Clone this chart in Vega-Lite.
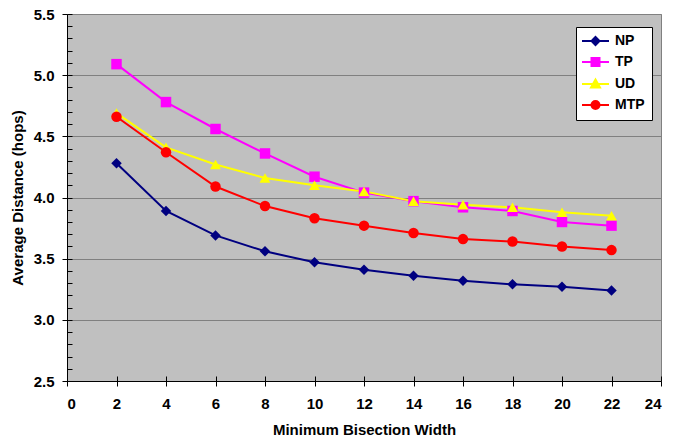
{
  "$schema": "https://vega.github.io/schema/vega-lite/v6.json",
  "width": 594,
  "height": 367,
  "autosize": {"type": "none"},
  "padding": {"left": 67, "top": 14, "right": 13, "bottom": 64},
  "background": "white",
  "config": {
    "font": "Liberation Sans",
    "view": {"fill": "#C0C0C0", "stroke": "#808080", "strokeWidth": 1},
    "axis": {"labelFont": "Liberation Sans", "titleFont": "Liberation Sans", "labelFontWeight": "bold", "titleFontWeight": "bold", "labelFontSize": 15, "titleFontSize": 15, "labelColor": "black", "titleColor": "black", "domainColor": "black", "tickColor": "black", "tickWidth": 1, "domainWidth": 1}
  },
  "data": {"values": [
    {"x": 2, "series": "NP", "y": 4.28}, {"x": 4, "series": "NP", "y": 3.89}, {"x": 6, "series": "NP", "y": 3.69}, {"x": 8, "series": "NP", "y": 3.56}, {"x": 10, "series": "NP", "y": 3.47}, {"x": 12, "series": "NP", "y": 3.41}, {"x": 14, "series": "NP", "y": 3.36}, {"x": 16, "series": "NP", "y": 3.32}, {"x": 18, "series": "NP", "y": 3.29}, {"x": 20, "series": "NP", "y": 3.27}, {"x": 22, "series": "NP", "y": 3.24},
    {"x": 2, "series": "TP", "y": 5.09}, {"x": 4, "series": "TP", "y": 4.78}, {"x": 6, "series": "TP", "y": 4.56}, {"x": 8, "series": "TP", "y": 4.36}, {"x": 10, "series": "TP", "y": 4.17}, {"x": 12, "series": "TP", "y": 4.04}, {"x": 14, "series": "TP", "y": 3.97}, {"x": 16, "series": "TP", "y": 3.92}, {"x": 18, "series": "TP", "y": 3.89}, {"x": 20, "series": "TP", "y": 3.8}, {"x": 22, "series": "TP", "y": 3.77},
    {"x": 2, "series": "UD", "y": 4.69}, {"x": 4, "series": "UD", "y": 4.41}, {"x": 6, "series": "UD", "y": 4.27}, {"x": 8, "series": "UD", "y": 4.16}, {"x": 10, "series": "UD", "y": 4.1}, {"x": 12, "series": "UD", "y": 4.05}, {"x": 14, "series": "UD", "y": 3.97}, {"x": 16, "series": "UD", "y": 3.94}, {"x": 18, "series": "UD", "y": 3.92}, {"x": 20, "series": "UD", "y": 3.88}, {"x": 22, "series": "UD", "y": 3.85},
    {"x": 2, "series": "MTP", "y": 4.66}, {"x": 4, "series": "MTP", "y": 4.37}, {"x": 6, "series": "MTP", "y": 4.09}, {"x": 8, "series": "MTP", "y": 3.93}, {"x": 10, "series": "MTP", "y": 3.83}, {"x": 12, "series": "MTP", "y": 3.77}, {"x": 14, "series": "MTP", "y": 3.71}, {"x": 16, "series": "MTP", "y": 3.66}, {"x": 18, "series": "MTP", "y": 3.64}, {"x": 20, "series": "MTP", "y": 3.6}, {"x": 22, "series": "MTP", "y": 3.57}
  ]},
  "encoding": {
    "x": {"field": "x", "type": "quantitative", "scale": {"domain": [0, 24], "nice": false, "zero": false}, "axis": null},
    "y": {"field": "y", "type": "quantitative", "scale": {"domain": [2.5, 5.5], "nice": false, "zero": false}, "axis": null},
    "color": {"field": "series", "type": "nominal", "scale": {"domain": ["NP", "TP", "UD", "MTP"], "range": ["#000080", "#FF00FF", "#FFFF00", "#FF0000"]},
      "legend": {"title": null, "orient": "none", "legendX": 509, "legendY": 13, "fillColor": "white", "strokeColor": "black", "padding": 7, "labelFontSize": 14, "labelFontWeight": "bold", "labelFont": "Liberation Sans", "labelColor": "black", "symbolSize": 100, "rowPadding": 5, "symbolStrokeWidth": 2, "symbolOffset": 5.5, "labelOffset": 12.5,
        "encode": {"symbols": {"update": {
          "shape": {"signal": "datum.value === 'NP' ? 'M-2.7,0H2.7M0,-0.8L0.8,0L0,0.8L-0.8,0Z' : datum.value === 'TP' ? 'M-2.7,0H2.7M-0.8,-0.8H0.8V0.8H-0.8Z' : datum.value === 'UD' ? 'M-2.7,0H2.7M0,-0.9L0.9,0.7H-0.9Z' : 'M-2.7,0H2.7M0.8,0A0.8,0.8,0,1,1,-0.8,0A0.8,0.8,0,1,1,0.8,0Z'"},
          "stroke": {"signal": "scale('color', datum.value)"},
          "fill": {"signal": "scale('color', datum.value)"},
          "strokeWidth": {"value": 2},
          "opacity": {"value": 1}
        }}}}}
  },
  "layer": [
    {"mark": {"type": "line", "strokeWidth": 2},
     "encoding": {
       "x": {"field": "x", "type": "quantitative",
         "axis": {"orient": "bottom", "title": "Minimum Bisection Width", "values": [0,2,4,6,8,10,12,14,16,18,20,22,24], "grid": false, "tickSize": 5, "labelPadding": 10, "titlePadding": 11}},
       "y": {"field": "y", "type": "quantitative",
         "axis": {"orient": "left", "title": "Average Distance (hops)", "values": [2.5,3.0,3.5,4.0,4.5,5.0,5.5], "format": ".1f", "grid": true, "gridColor": "#808080", "gridWidth": 1, "tickSize": 5, "labelPadding": 8, "titlePadding": 8}}
     }},
    {"transform": [{"filter": "datum.series === 'NP'"}], "mark": {"type": "point", "filled": true, "size": 110, "opacity": 1, "shape": "diamond"},
     "encoding": {
       "x": {"field": "x", "type": "quantitative",
         "axis": {"orient": "bottom", "offset": -5, "title": null, "values": [0,2,4,6,8,10,12,14,16,18,20,22,24], "labels": false, "domain": false, "grid": false, "tickSize": 5}},
       "y": {"field": "y", "type": "quantitative",
         "axis": {"orient": "left", "offset": -5, "title": null, "values": [2.5,2.6,2.7,2.8,2.9,3.0,3.1,3.2,3.3,3.4,3.5,3.6,3.7,3.8,3.9,4.0,4.1,4.2,4.3,4.4,4.5,4.6,4.7,4.8,4.9,5.0,5.1,5.2,5.3,5.4,5.5], "labels": false, "domain": false, "grid": false, "tickSize": 5}}
     }},
    {"transform": [{"filter": "datum.series === 'TP'"}], "mark": {"type": "point", "filled": true, "size": 110, "opacity": 1, "shape": "square"}},
    {"transform": [{"filter": "datum.series === 'UD'"}], "mark": {"type": "point", "filled": true, "size": 120, "opacity": 1, "shape": "triangle-up"}},
    {"transform": [{"filter": "datum.series === 'MTP'"}], "mark": {"type": "point", "filled": true, "size": 110, "opacity": 1, "shape": "circle"}}
  ],
  "resolve": {"axis": {"x": "independent", "y": "independent"}}
}
